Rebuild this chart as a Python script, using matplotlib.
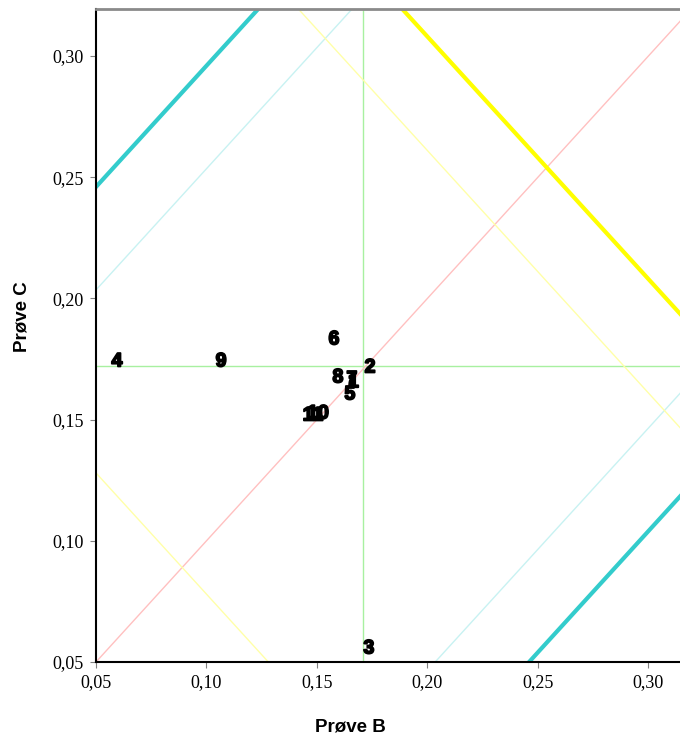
import matplotlib
matplotlib.use("Agg")
import matplotlib.pyplot as plt
import matplotlib.patheffects as pe
import numpy as np
from matplotlib.ticker import FuncFormatter, MultipleLocator

# Lab results: sample B vs sample C
labs = ["1", "2", "3", "4", "5", "6", "7", "8", "9", "10", "11"]
prove_b = [0.1665, 0.1740, 0.1735, 0.0595, 0.1649, 0.1577, 0.1658, 0.1595, 0.1066, 0.1505, 0.1482]
prove_c = [0.1652, 0.1713, 0.0554, 0.1738, 0.1602, 0.1829, 0.1664, 0.1672, 0.1738, 0.1523, 0.1515]

# Reference lines
mean_b = 0.1708
mean_c = 0.1721
diag_inner = 0.1535   # y = x +/- offset (thin)
diag_outer = 0.1960   # y = x +/- offset (thick)
anti_thin = [0.178, 0.461]   # x + y = const (thin)
anti_thick = [0.508]         # x + y = const (thick)

xlim = (0.05, 0.3143)
ylim = (0.05, 0.3194)

fig = plt.figure(figsize=(6.8, 7.38), dpi=100)
ax = fig.add_axes([96 / 680, 1 - 662 / 738, 1 - 96 / 680, (662 - 9) / 738])
ax.set_xlim(*xlim)
ax.set_ylim(*ylim)

xs = np.array([0.0, 0.6])
ax.axvline(mean_b, color="#a8f0a0", lw=1.0, zorder=1)
ax.axhline(mean_c, color="#a8f0a0", lw=1.0, zorder=1)
ax.plot(xs, xs, color="#ffc0c0", lw=1.0, zorder=2)
for s in (diag_inner, -diag_inner):
    ax.plot(xs, xs + s, color="#c8f2f2", lw=1.0, zorder=2)
for s in (diag_outer, -diag_outer):
    ax.plot(xs, xs + s, color="#33cccc", lw=3.0, zorder=2)
for c in anti_thin:
    ax.plot(xs, c - xs, color="#ffffa8", lw=1.0, zorder=2)
for c in anti_thick:
    ax.plot(xs, c - xs, color="#ffff00", lw=3.0, zorder=2)

for lab, b, c in zip(labs, prove_b, prove_c):
    ax.text(b, c, lab, ha="center", va="center", fontsize=14, fontweight="bold",
            family="Liberation Sans", color="black", zorder=5,
            path_effects=[pe.withStroke(linewidth=1.3, foreground="black")])

ax.xaxis.set_major_locator(MultipleLocator(0.05))
ax.yaxis.set_major_locator(MultipleLocator(0.05))
fmt = FuncFormatter(lambda v, p: f"{v:.2f}".replace(".", ","))
ax.xaxis.set_major_formatter(fmt)
ax.yaxis.set_major_formatter(fmt)
for lbl in ax.get_xticklabels() + ax.get_yticklabels():
    lbl.set_family("Liberation Serif")
    lbl.set_fontsize(13)
ax.tick_params(direction="out", length=4, width=0.8, color="#808080", pad=5)

ax.spines["right"].set_visible(False)
ax.spines["top"].set_color("#8a8a8a")
ax.spines["top"].set_linewidth(2)
ax.spines["left"].set_linewidth(1.5)
ax.spines["bottom"].set_linewidth(1.5)

fig.text(350 / 680, 1 - 727 / 738, "Prøve B", ha="center", va="center",
         fontsize=13.5, fontweight="bold", family="Liberation Sans")
fig.text(22 / 680, 1 - 317 / 738, "Prøve C", ha="center", va="center", rotation=90,
         fontsize=13.5, fontweight="bold", family="Liberation Sans")

fig.savefig("out.png", dpi=100)
